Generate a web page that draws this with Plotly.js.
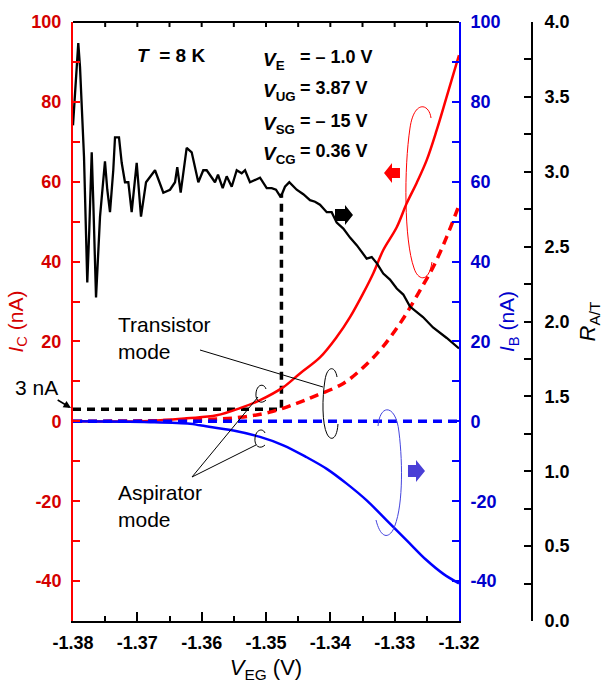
<!DOCTYPE html>
<html><head><meta charset="utf-8">
<script src="https://cdn.plot.ly/plotly-3.0.1.min.js"></script>
<style>html,body{margin:0;padding:0;background:#fff}#chart{width:607px;height:684px}</style>
</head><body><div id="chart"></div>
<script>
// R_A/T (right black axis)
const vegR = [-1.38, -1.37918, -1.37891, -1.37865, -1.37829, -1.37798, -1.37778, -1.37747, -1.37709, -1.37684, -1.37642, -1.3758, -1.37503, -1.37467, -1.37425, -1.37374, -1.37347, -1.37285, -1.37243, -1.37192, -1.3714, -1.37088, -1.3701, -1.36943, -1.36865, -1.36725, -1.36596, -1.36492, -1.36414, -1.36379, -1.36326, -1.36233, -1.36155, -1.36052, -1.35975, -1.35922, -1.35844, -1.35793, -1.35746, -1.35673, -1.35611, -1.35533, -1.35455, -1.35378, -1.35326, -1.35249, -1.35144, -1.35093, -1.34989, -1.34911, -1.34845, -1.34772, -1.34705, -1.34638, -1.34523, -1.3442, -1.34316, -1.34238, -1.34161, -1.34056, -1.33979, -1.33901, -1.33798, -1.33694, -1.3359, -1.33435, -1.33357, -1.33279, -1.33177, -1.33073, -1.32968, -1.32866, -1.32762, -1.3256, -1.32404, -1.32191, -1.32];
const rAT = [3.31, 3.86, 3.70, 3.43, 3.10, 2.59, 2.26, 2.61, 3.13, 2.79, 2.16, 2.70, 3.07, 2.88, 2.73, 3.01, 3.23, 3.23, 3.06, 2.93, 2.93, 2.73, 3.06, 2.70, 2.93, 3.01, 2.86, 2.88, 2.93, 3.03, 2.86, 3.16, 3.13, 2.93, 3.01, 3.01, 2.96, 2.93, 2.98, 2.89, 2.97, 2.90, 3.01, 2.99, 3.01, 2.93, 2.95, 2.96, 2.89, 2.89, 2.88, 2.83, 2.90, 2.93, 2.88, 2.85, 2.81, 2.80, 2.78, 2.73, 2.73, 2.66, 2.62, 2.56, 2.51, 2.42, 2.43, 2.39, 2.32, 2.28, 2.22, 2.18, 2.10, 2.03, 1.96, 1.89, 1.82];
// I_C aspirator mode (solid red)
const vegIC = [-1.38, -1.36803, -1.36233, -1.35766, -1.35404, -1.35093, -1.34736, -1.34472, -1.34161, -1.33901, -1.33694, -1.33488, -1.33332, -1.33177, -1.32968, -1.32813, -1.32658, -1.32502, -1.32347, -1.32191, -1.32];
const iC = [0, 0.1, 0.75, 1.5, 3.3, 5.3, 8.5, 12.0, 16.0, 21.1, 26.1, 32.1, 37.1, 42.9, 48.6, 54.6, 59.7, 65.4, 72.9, 81.3, 91.7];
// I_C transistor mode (dashed red)
const vegICt = [-1.38, -1.36026, -1.35404, -1.34938, -1.34523, -1.34212, -1.33798, -1.33488, -1.33228, -1.33021, -1.32813, -1.32606, -1.32399, -1.32191, -1.32];
const iCt = [0, 0.4, 1.0, 2.3, 4.5, 6.5, 9.5, 13.5, 17.8, 22.1, 27.1, 32.8, 38.7, 46.2, 54.1];
// I_B aspirator mode (solid blue)
const vegIB = [-1.38, -1.36803, -1.36181, -1.36026, -1.35508, -1.35093, -1.34731, -1.34367, -1.34056, -1.33746, -1.33435, -1.33124, -1.32813, -1.32502, -1.32244, -1.32];
const iB = [0, -0.2, -0.6, -1.0, -2.3, -3.9, -6.0, -9.0, -11.9, -15.6, -19.8, -24.8, -29.8, -34.8, -38.2, -40.6];
// I_B transistor mode (dashed blue)
const vegIBt = [-1.38, -1.35, -1.32];
const iBt = [0, 0, 0];
// 3 nA guide (dashed black)
const guideX = [-1.38, -1.3476, -1.3476];
const guideY = [3, 3, 57];
// ticks
const xTickVals = [-1.38, -1.37, -1.36, -1.35, -1.34, -1.33, -1.32];
const xTickText = ['-1.38', '-1.37', '-1.36', '-1.35', '-1.34', '-1.33', '-1.32'];
const topTickVals = [-1.375, -1.37, -1.365, -1.36, -1.355, -1.35, -1.345, -1.34, -1.335, -1.33, -1.325];
const iTickVals = [-40, -20, 0, 20, 40, 60, 80, 100];
const iTickText = ['-40', '-20', '0', '20', '40', '60', '80', '100'];
const rTickVals = [0, 0.5, 1, 1.5, 2, 2.5, 3, 3.5, 4];
const rTickText = ['0.0', '0.5', '1.0', '1.5', '2.0', '2.5', '3.0', '3.5', '4.0'];

const W = 607, H = 684, L = 73, R = 75, T = 22, B = 63;
const pw = W - L - R, ph = H - T - B;
const xd = (459 - L) / pw;
const px = x => (x - L) / pw;
const py = y => (H - B - y) / ph;
const tp = s => s.replace(/(-?[\d.]+),(-?[\d.]+)/g, (m, a, b) => px(+a).toFixed(4) + ',' + py(+b).toFixed(4));
const FONT = 'Arial, "Liberation Sans", sans-serif';
const RED = '#ff0000', REDT = '#d40000', BLUE = '#0000ff', BLUET = '#0000cc';

const traces = [
  {x: guideX, y: guideY, xaxis: 'x', yaxis: 'y', mode: 'lines', line: {color: '#000', width: 3.5, dash: '8px,6px'}},
  {x: vegICt, y: iCt, xaxis: 'x', yaxis: 'y', mode: 'lines', line: {color: RED, width: 3.5, dash: '9px,6px', shape: 'spline'}},
  {x: vegIC, y: iC, xaxis: 'x', yaxis: 'y', mode: 'lines', line: {color: RED, width: 2.5, shape: 'spline'}},
  {x: vegIBt, y: iBt, xaxis: 'x', yaxis: 'y2', mode: 'lines', line: {color: BLUE, width: 3.5, dash: '9px,6px'}},
  {x: vegIB, y: iB, xaxis: 'x', yaxis: 'y2', mode: 'lines', line: {color: BLUE, width: 2.5, shape: 'spline'}},
  {x: vegR, y: rAT, xaxis: 'x', yaxis: 'y3', mode: 'lines', line: {color: '#000', width: 2.3}}
];

const tickFont = (c) => ({family: FONT, size: 18, color: c, weight: 'bold'});

// top frame: line + inward ticks
const topShapes = [{type: 'line', xref: 'paper', yref: 'paper', x0: 0, y0: 1, x1: xd, y1: 1, line: {color: '#000', width: 2}}]
  .concat(topTickVals.map(v => ({type: 'line', xref: 'x', yref: 'paper', x0: v, x1: v, y0: 1, y1: 1 - 5 / ph, line: {color: '#000', width: 2}})));

const layout = {
  width: W, height: H,
  margin: {l: L, r: R, t: T, b: B},
  paper_bgcolor: '#fff', plot_bgcolor: 'rgba(0,0,0,0)',
  showlegend: false, hovermode: false,
  font: {family: FONT},
  xaxis: {
    domain: [0, xd], range: [-1.38, -1.32], showgrid: false, zeroline: false,
    showline: true, linecolor: '#000', linewidth: 2,
    ticks: 'inside', ticklen: 9, tickwidth: 2, tickcolor: '#000',
    tickmode: 'array', tickvals: xTickVals, ticktext: xTickText,
    tickfont: tickFont('#000'), ticklabelstandoff: 4,
    minor: {tickmode: 'linear', tick0: -1.38, dtick: 0.005, ticks: 'inside', ticklen: 5, tickwidth: 2, tickcolor: '#000'},
    title: {text: '<i>V</i><sub>EG</sub> (V)', font: {family: FONT, size: 22, color: '#000'}, standoff: 8}
  },
  yaxis: {
    range: [-50, 100], showgrid: false, zeroline: false,
    showline: true, linecolor: RED, linewidth: 2,
    ticks: 'inside', ticklen: 7, tickwidth: 2, tickcolor: RED,
    tickmode: 'array', tickvals: iTickVals, ticktext: iTickText,
    tickfont: tickFont(REDT), ticklabelstandoff: 6,
    minor: {tickmode: 'linear', tick0: 0, dtick: 10, ticks: 'inside', ticklen: 7, tickwidth: 2, tickcolor: RED},
    title: {text: '<i>I</i><sub>C</sub> (nA)', font: {family: FONT, size: 21, color: REDT}, standoff: 2}
  },
  yaxis2: {
    overlaying: 'y', side: 'right', anchor: 'x',
    range: [-50, 100], showgrid: false, zeroline: false,
    showline: true, linecolor: BLUE, linewidth: 2,
    ticks: 'inside', ticklen: 7, tickwidth: 2, tickcolor: BLUE,
    tickmode: 'array', tickvals: iTickVals, ticktext: iTickText,
    tickfont: tickFont(BLUET), ticklabelstandoff: 6,
    minor: {tickmode: 'linear', tick0: 0, dtick: 10, ticks: 'inside', ticklen: 7, tickwidth: 2, tickcolor: BLUE},
    title: {text: '<i>I</i><sub>B</sub> (nA)', font: {family: FONT, size: 21, color: BLUET}, standoff: 0}
  },
  yaxis3: {
    overlaying: 'y', side: 'right', anchor: 'free', position: 1,
    range: [0, 4], showgrid: false, zeroline: false,
    showline: true, linecolor: '#000', linewidth: 2,
    ticks: 'inside', ticklen: 7, tickwidth: 2, tickcolor: '#000',
    tickmode: 'array', tickvals: rTickVals, ticktext: rTickText,
    tickfont: tickFont('#000'), ticklabelstandoff: 8,
    minor: {tickmode: 'linear', tick0: 0, dtick: 0.25, ticks: 'inside', ticklen: 7, tickwidth: 2, tickcolor: '#000'},
    title: {text: '<i>R</i><sub>A/T</sub>', font: {family: FONT, size: 22, color: '#000'}, standoff: 10}
  },
  shapes: topShapes.concat([
    // leader lines
    {type: 'line', xref: 'paper', yref: 'paper', x0: px(200), y0: py(350), x1: px(323), y1: py(387), line: {color: '#000', width: 1}},
    {type: 'line', xref: 'paper', yref: 'paper', x0: px(192), y0: py(477), x1: px(258), y1: py(397), line: {color: '#000', width: 1}},
    {type: 'line', xref: 'paper', yref: 'paper', x0: px(192), y0: py(477), x1: px(256), y1: py(445), line: {color: '#000', width: 1}},
    // loops
    {type: 'path', xref: 'paper', yref: 'paper', path: tp('M337,377 C335,365 327,366 325,380 C322,398 322,424 327,434 C331,442 337,439 338,424'), line: {color: '#000', width: 1}},
    {type: 'path', xref: 'paper', yref: 'paper', path: tp('M266,389 C264,383 257,384 256,393 C255,401 261,405 266,400'), line: {color: '#000', width: 1}},
    {type: 'path', xref: 'paper', yref: 'paper', path: tp('M265,433 C263,428 256,429 255,438 C254,446 260,450 265,445'), line: {color: '#000', width: 1}},
    {type: 'path', xref: 'paper', yref: 'paper', path: tp('M431,118 C429,103 414,100 410,128 C404,168 404,240 414,268 C418,281 429,283 432,262'), line: {color: RED, width: 1}},
    {type: 'path', xref: 'paper', yref: 'paper', path: tp('M378,426 C380,403 396,404 399,432 C403,465 403,510 393,530 C387,540 380,536 376,520'), line: {color: '#4444dd', width: 1}},
    // block arrows
    {type: 'path', xref: 'paper', yref: 'paper', path: tp('M384,173 L392,163 L392,168 L400,168 L400,178 L392,178 L392,183 Z'), fillcolor: RED, line: {width: 0}},
    {type: 'path', xref: 'paper', yref: 'paper', path: tp('M353,215 L345,205 L345,209 L335,209 L335,221 L345,221 L345,225 Z'), fillcolor: '#000', line: {width: 0}},
    {type: 'path', xref: 'paper', yref: 'paper', path: tp('M425,471 L416,460 L416,465 L408,465 L408,477 L416,477 L416,482 Z'), fillcolor: '#4a3fd6', line: {width: 0}}
  ]),
  annotations: [
    {xref: 'paper', yref: 'paper', x: px(135), y: py(55), xanchor: 'left', yanchor: 'middle', showarrow: false,
     text: '<i>T</i>\u00a0 = 8 K', font: {family: FONT, size: 19, color: '#000', weight: 'bold'}},
    {xref: 'paper', yref: 'paper', x: px(261), y: py(61), xanchor: 'left', yanchor: 'middle', showarrow: false,
     text: '<i>V</i><sub>E</sub>', font: {family: FONT, size: 19, color: '#000', weight: 'bold'}},
    {xref: 'paper', yref: 'paper', x: px(261), y: py(92), xanchor: 'left', yanchor: 'middle', showarrow: false,
     text: '<i>V</i><sub>UG</sub>', font: {family: FONT, size: 19, color: '#000', weight: 'bold'}},
    {xref: 'paper', yref: 'paper', x: px(261), y: py(125), xanchor: 'left', yanchor: 'middle', showarrow: false,
     text: '<i>V</i><sub>SG</sub>', font: {family: FONT, size: 19, color: '#000', weight: 'bold'}},
    {xref: 'paper', yref: 'paper', x: px(261), y: py(155), xanchor: 'left', yanchor: 'middle', showarrow: false,
     text: '<i>V</i><sub>CG</sub>', font: {family: FONT, size: 19, color: '#000', weight: 'bold'}},
    {xref: 'paper', yref: 'paper', x: px(298), y: py(57), xanchor: 'left', yanchor: 'middle', showarrow: false,
     text: '= – 1.0 V', font: {family: FONT, size: 18, color: '#000', weight: 'bold'}},
    {xref: 'paper', yref: 'paper', x: px(298), y: py(88), xanchor: 'left', yanchor: 'middle', showarrow: false,
     text: '= 3.87 V', font: {family: FONT, size: 18, color: '#000', weight: 'bold'}},
    {xref: 'paper', yref: 'paper', x: px(298), y: py(121), xanchor: 'left', yanchor: 'middle', showarrow: false,
     text: '= – 15 V', font: {family: FONT, size: 18, color: '#000', weight: 'bold'}},
    {xref: 'paper', yref: 'paper', x: px(298), y: py(151), xanchor: 'left', yanchor: 'middle', showarrow: false,
     text: '= 0.36 V', font: {family: FONT, size: 18, color: '#000', weight: 'bold'}},
    {xref: 'paper', yref: 'paper', x: px(116), y: py(338), xanchor: 'left', yanchor: 'middle', align: 'left', showarrow: false,
     text: 'Transistor<br>mode', font: {family: FONT, size: 21, color: '#000'}},
    {xref: 'paper', yref: 'paper', x: px(116), y: py(506), xanchor: 'left', yanchor: 'middle', align: 'left', showarrow: false,
     text: 'Aspirator<br>mode', font: {family: FONT, size: 21, color: '#000'}},
    {xref: 'paper', yref: 'paper', x: px(71), y: py(408), showarrow: true, ax: -35, ay: -21,
     arrowhead: 2, arrowsize: 1, arrowwidth: 1.5, arrowcolor: '#000',
     text: '3 nA', font: {family: FONT, size: 21, color: '#000'}}
  ]
};

Plotly.newPlot('chart', traces, layout, {displayModeBar: false, staticPlot: true});
</script>
</body></html>
